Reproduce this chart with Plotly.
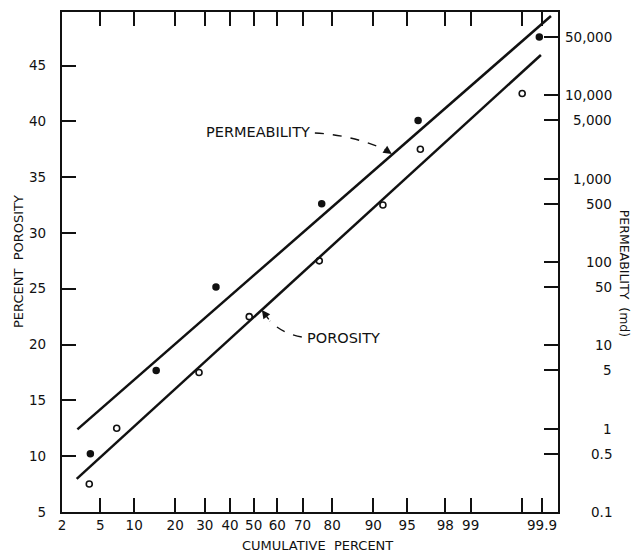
import math
from statistics import NormalDist
import plotly.graph_objects as go

# ---------------- data ----------------
# permeability samples (filled dots, right log axis)
perm_pct = [4.0, 14.8, 34.3, 76.7, 96.1, 99.89]
perm_md = [0.5, 5, 50, 500, 5000, 50000]

# porosity samples (open circles, left axis)
poro_pct = [3.9, 7.1, 27.9, 48.1, 75.9, 91.7, 96.3, 99.8]
poro_val = [7.5, 12.5, 17.5, 22.5, 27.5, 32.5, 37.5, 42.5]

# fitted straight lines on probability paper
perm_line_pct = [2.94, 99.928]
perm_line_md = [0.98, 89600]
poro_line_pct = [2.89, 99.896]
poro_line_val = [7.96, 45.95]

# axes
x_tick_pct = [2, 5, 10, 20, 30, 40, 50, 60, 70, 80, 90, 95, 98, 99, 99.8, 99.9]
x_tick_txt = ["2", "5", "10", "20", "30", "40", "50", "60", "70", "80", "90", "95",
              "98", "99", "", "99.9"]
y_ticks = [5, 10, 15, 20, 25, 30, 35, 40, 45]
y2_ticks = [0.1, 0.5, 1, 5, 10, 50, 100, 500, 1000, 5000, 10000, 50000]
y2_txt = ["0.1", "0.5", "1", "5", "10", "50", "100", "500", "1,000", "5,000",
          "10,000", "50,000"]

# ---------------- helpers ----------------
nd = NormalDist()


def z(p):
    return nd.inv_cdf(p / 100.0)


FONT = "DejaVu Sans"
INK = "#111111"
TICK_SIZE = 13.5
TITLE_SIZE = 13
CALL_SIZE = 14.5

fig = go.Figure()

fig.add_trace(go.Scatter(x=[z(p) for p in perm_line_pct], y=perm_line_md, yaxis="y2",
                         mode="lines", line=dict(color=INK, width=2.5),
                         showlegend=False, hoverinfo="skip"))
fig.add_trace(go.Scatter(x=[z(p) for p in poro_line_pct], y=poro_line_val, yaxis="y",
                         mode="lines", line=dict(color=INK, width=2.5),
                         showlegend=False, hoverinfo="skip"))
fig.add_trace(go.Scatter(x=[z(p) for p in perm_pct], y=perm_md, yaxis="y2",
                         mode="markers", name="Permeability",
                         marker=dict(symbol="circle", size=7.5, color=INK),
                         showlegend=False))
fig.add_trace(go.Scatter(x=[z(p) for p in poro_pct], y=poro_val, yaxis="y",
                         mode="markers", name="Porosity",
                         marker=dict(symbol="circle-open", size=6, color=INK,
                                     line=dict(width=1.6, color=INK)),
                         showlegend=False))

axis_common = dict(showgrid=False, zeroline=False, showline=True, linewidth=2.2,
                   linecolor=INK, ticks="inside", ticklen=14, tickwidth=2,
                   tickcolor=INK, automargin=False,
                   tickfont=dict(family=FONT, size=TICK_SIZE, color=INK))

fig.update_layout(
    width=634, height=554,
    margin=dict(l=62, r=76, t=12, b=42),
    paper_bgcolor="white", plot_bgcolor="white",
    font=dict(family=FONT, size=TICK_SIZE, color=INK),
    xaxis=dict(range=[z(2) - 0.001, 3.262], tickmode="array",
               tickvals=[z(p) for p in x_tick_pct], ticktext=x_tick_txt,
               mirror="ticks", ticklabelstandoff=0,
               **axis_common),
    yaxis=dict(range=[4.995, 49.8], tickmode="array", tickvals=y_ticks,
               ticktext=[str(v) for v in y_ticks], ticklabelstandoff=11,
               **axis_common),
    yaxis2=dict(type="log", range=[-1.0005, 5], overlaying="y", side="right",
                tickmode="array", tickvals=y2_ticks, showticklabels=False,
                **axis_common),
)

# x axis title
fig.add_annotation(x=0.515, xref="paper", y=-0.066, yref="paper",
                   text="CUMULATIVE\u00a0\u00a0PERCENT", showarrow=False,
                   xanchor="center", yanchor="middle",
                   font=dict(family=FONT, size=TITLE_SIZE, color=INK))

# left axis title
fig.add_annotation(x=-0.0887, xref="paper", y=0.5, yref="paper",
                   text="PERCENT\u00a0\u00a0POROSITY", textangle=-90, showarrow=False,
                   xanchor="center", yanchor="middle",
                   font=dict(family=FONT, size=TITLE_SIZE, color=INK))

# right axis tick labels (right aligned, as in the original)
for v, t in zip(y2_ticks, y2_txt):
    fig.add_annotation(x=1.113, xref="paper", xanchor="right", y=math.log10(v),
                       yref="y2", yanchor="middle", text=t, showarrow=False,
                       font=dict(family=FONT, size=TICK_SIZE, color=INK))

# right axis title (reads top to bottom)
fig.add_annotation(x=1.1355, xref="paper", y=0.478, yref="paper",
                   text="PERMEABILITY\u00a0\u00a0(md)",
                   textangle=90, showarrow=False, xanchor="center", yanchor="middle",
                   font=dict(family=FONT, size=12.5, color=INK))

# callout labels
fig.add_annotation(x=z(73.4), y=39.05, xref="x", yref="y", text="PERMEABILITY",
                   xanchor="right", yanchor="middle", showarrow=False,
                   font=dict(family=FONT, size=CALL_SIZE, color=INK))
fig.add_annotation(x=z(70.85), y=20.62, xref="x", yref="y", text="POROSITY",
                   xanchor="left", yanchor="middle", showarrow=False,
                   font=dict(family=FONT, size=CALL_SIZE, color=INK))

# dashed curved leaders
perm_leader = [(74.4, 38.96), (85.4, 38.78), (92.2, 37.44)]
poro_leader = [(69.7, 20.68), (62.3, 20.95), (56.9, 22.11)]
for pts in (perm_leader, poro_leader):
    (p0, v0), (p1, v1), (p2, v2) = pts
    fig.add_shape(type="path", xref="x", yref="y",
                  path=f"M {z(p0)},{v0} Q {z(p1)},{v1} {z(p2)},{v2}",
                  line=dict(color=INK, width=1.4, dash="dash"))

# arrow heads
fig.add_annotation(x=z(93.07), y=37.08, xref="x", yref="y", ax=-6, ay=-4, text="",
                   showarrow=True, arrowhead=2, arrowsize=1.2, arrowwidth=1.4,
                   arrowcolor=INK)
fig.add_annotation(x=z(53.5), y=23.10, xref="x", yref="y", ax=8, ay=11, text="",
                   showarrow=True, arrowhead=2, arrowsize=1.2, arrowwidth=1.4,
                   arrowcolor=INK)

fig.write_html("out.html")
